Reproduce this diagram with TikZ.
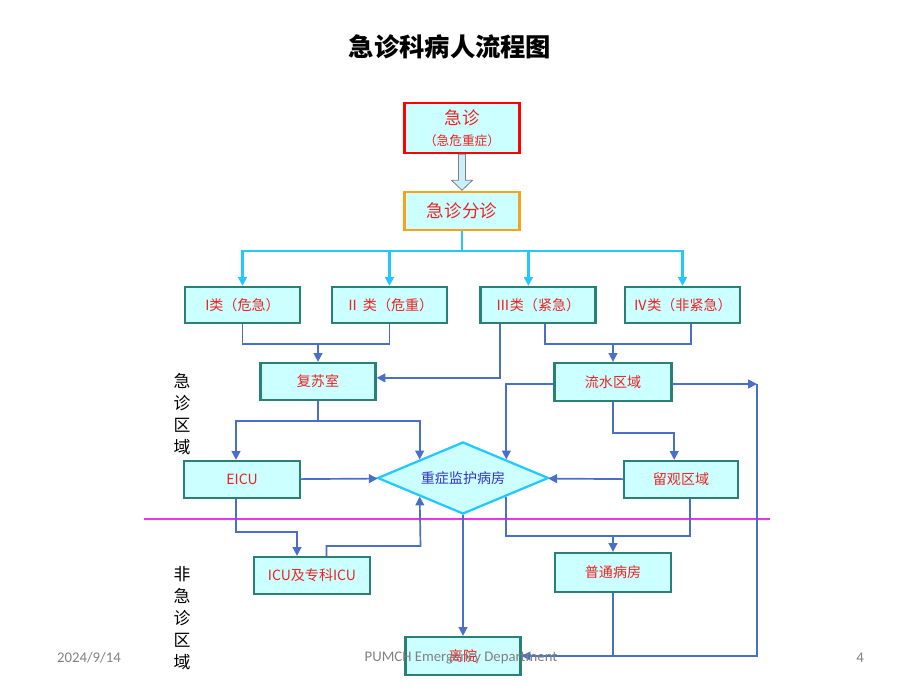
\documentclass[tikz,border=0pt]{standalone}
\usepackage{fontspec}
\usepackage{xcolor}
\usepackage{tikz}
\usetikzlibrary{shapes.geometric, arrows.meta, positioning, calc}
\newfontfamily\cjk{Noto Sans CJK SC}
\newfontfamily\footfont{Carlito}
\definecolor{boxfill}{HTML}{CCFFFF}
\definecolor{boxteal}{HTML}{2A8075}
\definecolor{boxred}{HTML}{F02020}
\definecolor{linkblue}{HTML}{4A6FCB}
\definecolor{triagecyan}{HTML}{22C8FF}
\definecolor{wardblue}{HTML}{3333CC}
\definecolor{triageorange}{HTML}{F7A21B}
\definecolor{zonepink}{HTML}{EE33EE}
\definecolor{hollowfill}{HTML}{C8F0FA}

\begin{document}
\begin{tikzpicture}[
    x=0.025cm, y=-0.025cm,
    block/.style={rectangle, draw=boxteal, fill=boxfill, line width=1.6pt, minimum width=2.875cm, minimum height=0.925cm, inner sep=0pt, text=boxred, align=center, font=\cjk\fontsize{10}{12}\selectfont},
    diam/.style={diamond, draw=triagecyan, fill=boxfill, line width=1.6pt, minimum width=4.275cm, minimum height=1.8cm, inner sep=0pt, aspect=2.4, text=wardblue, font=\cjk\fontsize{10}{12}\selectfont},
    link/.style={line width=1.2pt, draw=linkblue},
    arr/.style={-{Triangle[length=2.2mm, width=2.2mm]}, line width=1.2pt, draw=linkblue},
    triarr/.style={-{Triangle[length=2.2mm, width=2.2mm]}, line width=1.6pt, draw=triagecyan},
    zone/.style={align=center, font=\cjk\fontsize{12}{15.6}\selectfont},
    foot/.style={text=gray, font=\footfont\fontsize{10.5}{12}\selectfont}
]
\useasboundingbox (0,0) rectangle (920,690);

\node[font=\cjk\bfseries\fontsize{18}{20}\selectfont] (title) at (450,47) {急诊科病人流程图};

% emergency entry and triage
\node[block, draw=red, line width=1.8pt, minimum height=1.25cm, font=\cjk\fontsize{12.5}{15}\selectfont] (emg) at (462,128) {急诊\\{\fontsize{9}{11}\selectfont（急危重症）}};
\node[block, draw=triageorange, line width=1.8pt, minimum height=0.95cm, font=\cjk\fontsize{12.5}{15}\selectfont] (triage) at (462,211) {急诊分诊};
\draw[gray, fill=hollowfill, line width=0.6pt] (emg.south) ++(-3.5,0) -- ++(7,0) -- ++(0,26) -- ++(7,0) -- ++(-10.5,10) -- ++(-10.5,-10) -- ++(7,0) -- cycle;

% four classes
\node[block, minimum height=0.9cm] (c1) at (242.5,305) {I类（危急）};
\node[block, minimum height=0.9cm] (c2) at (389.5,305) {Ⅱ 类（危重）};
\node[block, minimum height=0.9cm] (c3) at (538,305) {Ⅲ类（紧急）};
\node[block, minimum height=0.9cm] (c4) at (682.5,305) {Ⅳ类（非紧急）};

\coordinate (split) at (462,251);
\draw[triagecyan, line width=1.6pt] (triage) -- (split);
\draw[triarr] (split) -| (c1.north);
\draw[triarr] (split) -| (c2.north);
\draw[triarr] (split) -| ([xshift=-0.24cm]c3.north);
\draw[triarr] (split) -| (c4.north);

% emergency area
\node[block] (resus) at (318,381.5) {复苏室};
\node[block, minimum width=2.925cm, minimum height=0.95cm] (flow) at (613,382) {流水区域};
\node[block, minimum width=2.9cm] (eicu) at (242,479.5) {EICU};
\node[diam] (icuw) at (463,478) {重症监护病房};
\node[block, minimum width=2.85cm] (obs) at (681,479.5) {留观区域};

\coordinate (j1) at (318,344);
\coordinate (j2) at (613,344);
\draw[link] (c1.south) |- (j1) -| (c2.south);
\draw[arr] (j1) -- (resus);
\draw[arr] ([xshift=-0.95cm]c3.south) |- ([yshift=0.09cm]resus.east);
\draw[link] ([xshift=0.18cm]c3.south) |- (j2) -| ([xshift=0.21cm]c4.south);
\draw[arr] (j2) -- (flow);

\coordinate (j3) at (318,421);
\draw[link] (resus) -- (j3);
\draw[arr] (j3) -| ([xshift=-0.15cm]eicu.north);
\draw[arr] (j3) -| (icuw.north west);
\draw[arr] (eicu) -- (icuw);
\draw[arr] (obs) -- (icuw);
\draw[arr] ([yshift=-0.05cm]flow.west) -| (icuw.north east);
\coordinate (j4) at (613,433);
\draw[arr] (flow) |- (j4) -| ([xshift=-0.17cm]obs.north);

% boundary between emergency and non-emergency areas
\coordinate (sepL) at (144,519);
\coordinate (sepR) at (770,519);
\draw[zonepink, line width=1.6pt] (sepL) -- (sepR);

% non-emergency area
\node[block, minimum width=2.9cm] (icus) at (312,575.5) {ICU及专科ICU};
\node[block, minimum width=2.9cm, minimum height=0.975cm] (ward) at (613,572.5) {普通病房};
\node[block, minimum height=0.95cm] (dis) at (463,656) {离院};

\coordinate (j5) at (613,536);
\draw[link] (icuw.south east) |- (j5) -| ([xshift=0.22cm]obs.south);
\draw[arr] (j5) -- (ward);
\draw[arr] (icuw) -- (dis);

\coordinate (j6) at (297,532);
\coordinate (j7) at (420.5,546);
\draw[arr] ([xshift=-0.15cm]eicu.south) |- (j6) -- (j6 |- icus.north);
\draw[arr] ([xshift=0.36cm]icus.north) |- (j7) -- (icuw.south west);

\coordinate (rt) at (757,384);
\draw[arr] ([yshift=-0.05cm]flow.east) -- (rt);
\draw[arr] (rt) |- (dis.east);
\draw[link] (ward) -- (ward.south |- dis.east);

% zone labels
\node[zone] (zoneA) at (182,414) {急\\诊\\区\\域};
\node[zone] (zoneB) at (182,618) {非\\急\\诊\\区\\域};

% footer
\node[foot] (date) at (89,658) {2024/9/14};
\node[foot] (dept) at (461,658) {PUMCH Emergency Department};
\node[foot] (page) at (860,658) {4};
\end{tikzpicture}
\end{document}
